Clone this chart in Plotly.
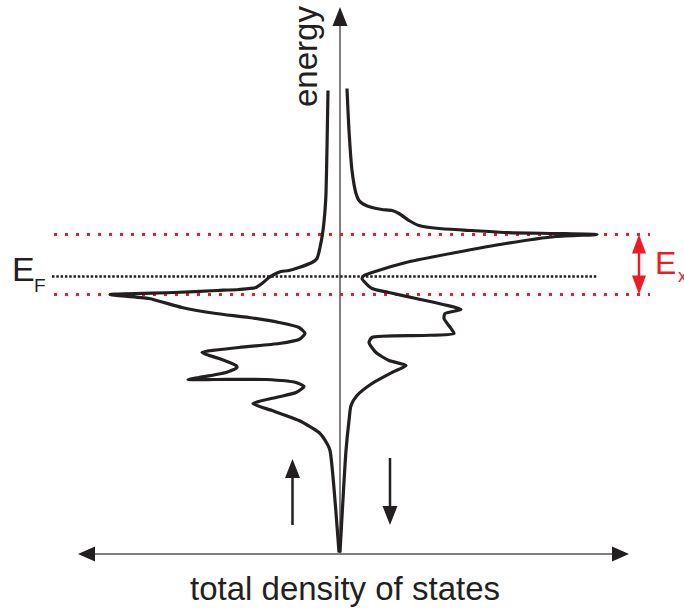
import plotly.graph_objects as go

# Spin-resolved total density of states (arbitrary units).
# Energy is measured from the Fermi level; DOS values are magnitudes.
energy_up = [3.72, 2.58, 1.66, 1.32, 0.92, 0.58, 0.36, 0.28, 0.18, 0.12, 0.10, 0.06,
             -0.02, -0.14, -0.22, -0.26, -0.28, -0.32, -0.36, -0.44, -0.62, -0.74,
             -0.82, -0.92, -1.02, -1.14, -1.26, -1.34, -1.42, -1.52, -1.64, -1.78,
             -1.82, -1.92, -2.02, -2.06, -2.06, -2.06, -2.12, -2.20, -2.32, -2.42,
             -2.54, -2.68, -2.88, -3.12, -3.34, -3.48, -5.52]
dos_up = [0.24, 0.26, 0.28, 0.30, 0.34, 0.40, 0.46, 0.56, 0.82, 1.02, 1.18, 1.28,
          1.42, 1.56, 1.68, 2.02, 2.46, 3.32, 4.60, 3.82, 3.16, 2.48,
          1.82, 1.22, 0.82, 0.70, 0.82, 1.22, 2.02, 2.76, 2.42, 2.08,
          2.06, 2.28, 2.82, 3.04, 2.48, 1.48, 0.88, 0.72, 0.88, 1.28,
          1.74, 1.36, 0.82, 0.42, 0.26, 0.20, 0.02]

energy_down = [3.76, 2.92, 2.12, 1.66, 1.52, 1.44, 1.38, 1.34, 1.32, 1.26, 1.12, 1.02,
               0.96, 0.92, 0.88, 0.86, 0.84, 0.80, 0.66, 0.48, 0.28, 0.08, 0.02,
               -0.04, -0.14, -0.24, -0.32, -0.44, -0.66, -0.74, -0.84, -1.04, -1.14,
               -1.18, -1.22, -1.32, -1.52, -1.68, -1.78, -1.92, -2.14, -2.38, -2.58,
               -2.88, -3.48, -5.52]
dos_down = [0.14, 0.18, 0.24, 0.32, 0.38, 0.48, 0.64, 0.84, 1.04, 1.18, 1.38, 1.58,
            1.98, 2.64, 3.32, 4.32, 5.14, 4.32, 3.32, 2.32, 1.32, 0.64, 0.48,
            0.44, 0.52, 0.64, 0.98, 1.52, 2.42, 2.10, 2.08, 2.22, 2.28,
            1.64, 0.64, 0.58, 0.72, 0.98, 1.32, 1.04, 0.64, 0.34, 0.22,
            0.18, 0.12, 0.00]

E_F = 0.0
E_peak_down = 0.84   # majority peak above E_F
E_peak_up = -0.36    # minority peak below E_F

INK = "#231f20"
RED = "#ed1c24"
AXIS = "#555555"
FONT = "Liberation Sans, Arial, sans-serif"

W, H = 684, 608
SCALE = 50.0          # pixels per unit
X_ZERO, Y_ZERO = 340.0, 276.5


def gx(p):
    """Horizontal figure position (px) -> DOS units."""
    return (p - X_ZERO) / SCALE


def gy(p):
    """Vertical figure position (px) -> energy units."""
    return (Y_ZERO - p) / SCALE


def tri(tip, base_left, base_right):
    pts = [tip, base_left, base_right]
    return "M " + " L ".join(f"{a:.4f},{b:.4f}" for a, b in pts) + " Z"


def vhead(xc, tip_y, base_y, half):
    return tri((gx(xc), gy(tip_y)), (gx(xc - half), gy(base_y)), (gx(xc + half), gy(base_y)))


def hhead(yc, tip_x, base_x, half):
    return tri((gx(tip_x), gy(yc)), (gx(base_x), gy(yc - half)), (gx(base_x), gy(yc + half)))


fig = go.Figure()

fig.add_trace(go.Scatter(
    x=[-d for d in dos_up], y=energy_up, mode="lines",
    line=dict(color=INK, width=3.2, shape="spline", smoothing=0.6),
    hoverinfo="skip"))
fig.add_trace(go.Scatter(
    x=dos_down, y=energy_down, mode="lines",
    line=dict(color=INK, width=3.2, shape="spline", smoothing=0.6),
    hoverinfo="skip"))

shapes = []
# axes
shapes.append(dict(type="line", x0=0, x1=0, y0=gy(553), y1=gy(24),
                   line=dict(color=AXIS, width=1.5), layer="below"))
shapes.append(dict(type="path", path=vhead(X_ZERO, 7, 26, 7.5),
                   fillcolor=INK, line=dict(width=0)))
shapes.append(dict(type="line", x0=gx(92), x1=gx(615), y0=gy(554), y1=gy(554),
                   line=dict(color=AXIS, width=1.5)))
shapes.append(dict(type="path", path=hhead(554, 78, 95, 7.5),
                   fillcolor=INK, line=dict(width=0)))
shapes.append(dict(type="path", path=hhead(554, 629, 612, 7.5),
                   fillcolor=INK, line=dict(width=0)))

# Fermi level and exchange-splitting guides
shapes.append(dict(type="line", x0=gx(52), x1=gx(598), y0=E_F, y1=E_F,
                   line=dict(color=INK, width=2.5, dash="2.5px,1.8px"), layer="below"))
for e in (E_peak_down, E_peak_up):
    shapes.append(dict(type="line", x0=gx(54), x1=gx(650), y0=e, y1=e,
                       line=dict(color=RED, width=3, dash="3px,8px"), layer="below"))

# exchange splitting double arrow
y_top = Y_ZERO - E_peak_down * SCALE
y_bot = Y_ZERO - E_peak_up * SCALE
shapes.append(dict(type="line", x0=gx(639), x1=gx(639), y0=gy(y_top + 15), y1=gy(y_bot - 15),
                   line=dict(color=RED, width=2.5)))
shapes.append(dict(type="path", path=vhead(639, y_top, y_top + 19, 7),
                   fillcolor=RED, line=dict(width=0)))
shapes.append(dict(type="path", path=vhead(639, y_bot, y_bot - 19, 7),
                   fillcolor=RED, line=dict(width=0)))

# spin arrows
shapes.append(dict(type="line", x0=gx(292.5), x1=gx(292.5), y0=gy(525), y1=gy(474),
                   line=dict(color=INK, width=2.5)))
shapes.append(dict(type="path", path=vhead(292.5, 459, 478, 7.5),
                   fillcolor=INK, line=dict(width=0)))
shapes.append(dict(type="line", x0=gx(390), x1=gx(390), y0=gy(458), y1=gy(510),
                   line=dict(color=INK, width=2.5)))
shapes.append(dict(type="path", path=vhead(390, 525, 506, 7.5),
                   fillcolor=INK, line=dict(width=0)))

annotations = [
    dict(x=gx(305), y=gy(57), text="energy", textangle=-90, showarrow=False,
         font=dict(family=FONT, size=33, color=INK), xanchor="center", yanchor="middle"),
    dict(x=gx(345), y=gy(588), text="total density of states", showarrow=False,
         font=dict(family=FONT, size=33, color=INK), xanchor="center", yanchor="middle"),
    dict(x=gx(23), y=gy(269), text="E", showarrow=False,
         font=dict(family=FONT, size=34, color=INK), xanchor="center", yanchor="middle"),
    dict(x=gx(39.5), y=gy(285), text="F", showarrow=False,
         font=dict(family=FONT, size=19, color=INK), xanchor="center", yanchor="middle"),
    dict(x=gx(653), y=gy(263), text="E", showarrow=False,
         font=dict(family=FONT, size=32, color=RED), xanchor="left", yanchor="middle"),
    dict(x=gx(676), y=gy(276), text="x", showarrow=False,
         font=dict(family=FONT, size=18, color=RED), xanchor="left", yanchor="middle"),
]

fig.update_layout(
    width=W, height=H,
    margin=dict(l=0, r=0, t=0, b=0),
    paper_bgcolor="white", plot_bgcolor="white",
    showlegend=False,
    xaxis=dict(range=[gx(0), gx(W)], visible=False, fixedrange=True),
    yaxis=dict(range=[gy(H), gy(0)], visible=False, fixedrange=True),
    shapes=shapes,
    annotations=annotations,
)

fig.write_html("out.html")
